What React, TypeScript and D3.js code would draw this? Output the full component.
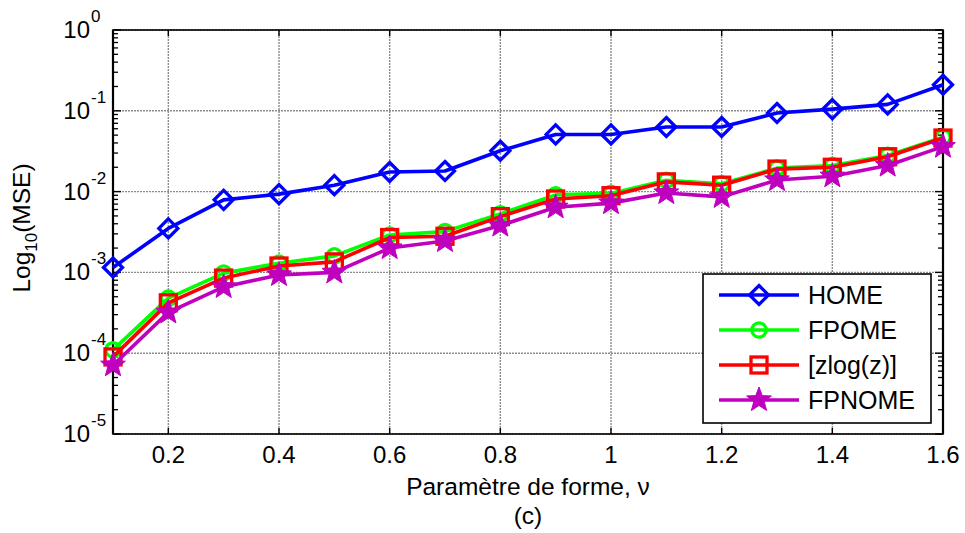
import React from "react";
import * as d3 from "d3";

const xValues = [0.1, 0.2, 0.3, 0.4, 0.5, 0.6, 0.7, 0.8, 0.9, 1.0, 1.1, 1.2, 1.3, 1.4, 1.5, 1.6];
const homeValues = [1.15e-3, 3.5e-3, 7.9e-3, 9.3e-3, 0.012, 0.0175, 0.018, 0.032, 0.051, 0.051, 0.063, 0.063, 0.094, 0.105, 0.12, 0.21];
const fpomeValues = [1.1e-4, 4.8e-4, 9.8e-4, 1.3e-3, 1.6e-3, 2.9e-3, 3.2e-3, 5.3e-3, 9.1e-3, 9.5e-3, 0.0138, 0.0125, 0.0195, 0.021, 0.028, 0.047];
const zlogValues = [9e-5, 4.2e-4, 8.5e-4, 1.2e-3, 1.35e-3, 2.7e-3, 2.8e-3, 4.9e-3, 8.1e-3, 8.9e-3, 0.0132, 0.012, 0.019, 0.02, 0.027, 0.046];
const fpnomeValues = [7.1e-5, 3.2e-4, 6.6e-4, 9.3e-4, 1.0e-3, 2.0e-3, 2.45e-3, 3.8e-3, 6.4e-3, 7.2e-3, 9.6e-3, 8.6e-3, 0.0139, 0.0155, 0.021, 0.036];

const seriesNames = ["HOME", "FPOME", "[zlog(z)]", "FPNOME"];
const seriesColors = ["#0000FF", "#00FF00", "#FF0000", "#BF00BF"];
const seriesMarkers = ["diamond", "circle", "square", "star"];
const seriesData = [homeValues, fpomeValues, zlogValues, fpnomeValues];

const xTickValues = [0.2, 0.4, 0.6, 0.8, 1.0, 1.2, 1.4, 1.6];
const xTickLabels = ["0.2", "0.4", "0.6", "0.8", "1", "1.2", "1.4", "1.6"];
const yExponents = [0, -1, -2, -3, -4, -5];

const W = 965, H = 533;
const left = 113, right = 943, top = 30, bottom = 434;

const FONT = "Arial, 'Liberation Sans', sans-serif";

function starPath(cx: number, cy: number, R: number) {
  const r = R * 0.42;
  const pts: string[] = [];
  for (let i = 0; i < 10; i++) {
    const a = -Math.PI / 2 + (i * Math.PI) / 5;
    const rr = i % 2 === 0 ? R : r;
    pts.push(`${cx + rr * Math.cos(a)},${cy + rr * Math.sin(a)}`);
  }
  return "M" + pts.join("L") + "Z";
}

function Marker({ kind, x, y, color }: { kind: string; x: number; y: number; color: string }) {
  if (kind === "diamond") {
    const s = 9.5;
    return <path d={`M${x},${y - s}L${x + s},${y}L${x},${y + s}L${x - s},${y}Z`} fill="none" stroke={color} strokeWidth={3.3} />;
  }
  if (kind === "circle") {
    return <circle cx={x} cy={y} r={7.2} fill="none" stroke={color} strokeWidth={3.3} />;
  }
  if (kind === "square") {
    const s = 8;
    return <rect x={x - s} y={y - s} width={2 * s} height={2 * s} fill="none" stroke={color} strokeWidth={3.3} />;
  }
  return <path d={starPath(x, y, 13)} fill={color} stroke={color} strokeWidth={1} />;
}

export default function App() {
  const x = d3.scaleLinear().domain([0.1, 1.6]).range([left, right]);
  const y = d3.scaleLog().domain([1e-5, 1]).range([bottom, top]);

  const minorTicks: number[] = [];
  for (let e = -5; e < 0; e++) {
    for (let m = 2; m <= 9; m++) minorTicks.push(m * Math.pow(10, e));
  }

  const line = d3
    .line<number>()
    .x((_, i) => x(xValues[i]))
    .y((d) => y(d));

  const legendX = 703, legendY = 274, legendW = 228, legendH = 149;

  return (
    <svg width={W} height={H} style={{ position: "absolute", left: 0, top: 0, background: "#fff" }} fontFamily={FONT}>
      <rect x={0} y={0} width={W} height={H} fill="#fff" />
      {xTickValues.map((v) => (
        <line key={"gx" + v} x1={x(v)} x2={x(v)} y1={top} y2={bottom} stroke="#8c8c8c" strokeWidth={1.4} strokeDasharray="2,1" />
      ))}
      {yExponents.map((e) => (
        <line key={"gy" + e} x1={left} x2={right} y1={y(Math.pow(10, e))} y2={y(Math.pow(10, e))} stroke="#8c8c8c" strokeWidth={1.4} strokeDasharray="2,1" />
      ))}
      {xTickValues.map((v) => (
        <g key={"tx" + v}>
          <line x1={x(v)} x2={x(v)} y1={bottom} y2={bottom - 6} stroke="#000" strokeWidth={1.4} />
          <line x1={x(v)} x2={x(v)} y1={top} y2={top + 6} stroke="#000" strokeWidth={1.4} />
        </g>
      ))}
      {yExponents.map((e) => (
        <g key={"ty" + e}>
          <line x1={left} x2={left + 8} y1={y(Math.pow(10, e))} y2={y(Math.pow(10, e))} stroke="#000" strokeWidth={1.4} />
          <line x1={right} x2={right - 8} y1={y(Math.pow(10, e))} y2={y(Math.pow(10, e))} stroke="#000" strokeWidth={1.4} />
        </g>
      ))}
      {minorTicks.map((v, i) => (
        <g key={"my" + i}>
          <line x1={left} x2={left + 5} y1={y(v)} y2={y(v)} stroke="#000" strokeWidth={1.3} />
          <line x1={right} x2={right - 5} y1={y(v)} y2={y(v)} stroke="#000" strokeWidth={1.3} />
        </g>
      ))}
      <rect x={left} y={top} width={right - left} height={bottom - top} fill="none" stroke="#000" strokeWidth={1.6} />
      <line x1={left} x2={left} y1={top} y2={bottom} stroke="#000" strokeWidth={2.2} />
      <line x1={right} x2={right} y1={top} y2={bottom} stroke="#000" strokeWidth={2.2} />
      {seriesData.map((vals, si) => (
        <g key={"s" + si}>
          <path d={line(vals) || ""} fill="none" stroke={seriesColors[si]} strokeWidth={3.6} strokeLinejoin="round" />
          {vals.map((v, i) => (
            <Marker key={i} kind={seriesMarkers[si]} x={x(xValues[i])} y={y(v)} color={seriesColors[si]} />
          ))}
        </g>
      ))}
      {xTickValues.map((v, i) => (
        <text key={"lx" + v} x={x(v)} y={463} textAnchor="middle" fontSize={24} fill="#000">
          {xTickLabels[i]}
        </text>
      ))}
      {yExponents.map((e) => (
        <text key={"ly" + e} x={90} y={y(Math.pow(10, e)) + 8} textAnchor="end" fontSize={24} fill="#000">
          10
          <tspan x={91} dy={-16} fontSize={17} textAnchor="start">{String(e)}</tspan>
        </text>
      ))}
      <text x={(left + right) / 2} y={495} textAnchor="middle" fontSize={24.5} fill="#000">
        Paramètre de forme, ν
      </text>
      <text x={(left + right) / 2} y={524} textAnchor="middle" fontSize={24.5} fill="#000">
        (c)
      </text>
      <text transform={`translate(30,${(top + bottom) / 2 - 4}) rotate(-90)`} textAnchor="middle" fontSize={24.5} fill="#000">
        Log
        <tspan fontSize={17} dy={7}>10</tspan>
        <tspan dy={-7}>(MSE)</tspan>
      </text>
      <rect x={legendX} y={legendY} width={legendW} height={legendH} fill="#fff" stroke="#000" strokeWidth={1.6} />
      {seriesNames.map((name, i) => {
        const cy = 295 + i * 35;
        return (
          <g key={"lg" + i}>
            <line x1={719} x2={799} y1={cy} y2={cy} stroke={seriesColors[i]} strokeWidth={3.6} />
            <Marker kind={seriesMarkers[i]} x={759} y={cy} color={seriesColors[i]} />
            <text x={808} y={cy + 9} fontSize={25} fill="#000">
              {name}
            </text>
          </g>
        );
      })}
    </svg>
  );
}
